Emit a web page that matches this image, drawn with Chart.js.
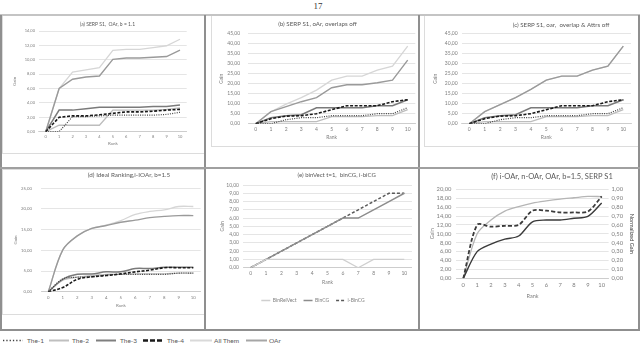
<!DOCTYPE html>
<html>
<head>
<meta charset="utf-8">
<script src="https://cdn.jsdelivr.net/npm/chart.js@4.4.1/dist/chart.umd.min.js"></script>
<style>
  html, body { margin: 0; padding: 0; background: #fff; }
  body { width: 640px; height: 345px; position: relative; overflow: hidden; font-family: Lato, sans-serif; }
  .box { position: absolute; }
  .rule { position: absolute; background: #8f8f8f; }
  .frame { position: absolute; border: 1px solid #dcdcdc; box-sizing: border-box; }
  #pageNo { position: absolute; left: 306px; width: 24px; top: 0; text-align: center; font: 9px "Liberation Serif", serif; color: #333; line-height: 12px; }
  .leg { position: absolute; top: 336px; height: 9px; font-size: 6.5px; line-height: 9px; color: #595959; white-space: nowrap; }
  .leg svg { display: block; }
</style>
</head>
<body>
<div id="pageNo">17</div>

<!-- light chart frames -->
<div class="frame" style="left:2px;top:15px;width:203px;height:139px"></div>
<div class="frame" style="left:211px;top:15px;width:208px;height:132px"></div>
<div class="frame" style="left:424px;top:15px;width:215px;height:132px"></div>
<div class="frame" style="left:2px;top:169px;width:203px;height:146px"></div>

<!-- table rules -->
<div class="rule" style="left:0;top:14px;width:640px;height:2px;background:#c4c4c4"></div>
<div class="rule" style="left:0;top:15px;width:2px;height:316px"></div>
<div class="rule" style="left:638px;top:15px;width:2px;height:316px"></div>
<div class="rule" style="left:204px;top:15px;width:2px;height:316px"></div>
<div class="rule" style="left:418px;top:15px;width:2px;height:316px"></div>
<div class="rule" style="left:0;top:167px;width:640px;height:2px;background:#a0a0a0"></div>
<div class="rule" style="left:0;top:329px;width:640px;height:2px"></div>

<!-- shared legend -->
<div class="leg" style="left:3px;top:339px"><svg width="20" height="3"><line x1="0" y1="1.5" x2="20" y2="1.5" stroke="#404040" stroke-width="1.5" stroke-dasharray="1.3,2"/></svg></div>
<div class="leg" style="left:27px">The-1</div>
<div class="leg" style="left:49px;top:339px"><svg width="20" height="3"><line x1="0" y1="1.5" x2="20" y2="1.5" stroke="#bfbfbf" stroke-width="2"/></svg></div>
<div class="leg" style="left:72px">The-2</div>
<div class="leg" style="left:96px;top:339px"><svg width="20" height="3"><line x1="0" y1="1.5" x2="20" y2="1.5" stroke="#7f7f7f" stroke-width="2"/></svg></div>
<div class="leg" style="left:120px">The-3</div>
<div class="leg" style="left:143px;top:339px"><svg width="20" height="3"><line x1="0" y1="1.5" x2="20" y2="1.5" stroke="#1a1a1a" stroke-width="2.5" stroke-dasharray="5,2"/></svg></div>
<div class="leg" style="left:167px">The-4</div>
<div class="leg" style="left:190px;top:339px"><svg width="22" height="3"><line x1="0" y1="1.5" x2="22" y2="1.5" stroke="#d9d9d9" stroke-width="2"/></svg></div>
<div class="leg" style="left:214px">All Them</div>
<div class="leg" style="left:246px;top:339px"><svg width="21" height="3"><line x1="0" y1="1.5" x2="21" y2="1.5" stroke="#a6a6a6" stroke-width="2"/></svg></div>
<div class="leg" style="left:269px">OAr</div>

<script>
const ranks = ['0', '1', '2', '3', '4', '5', '6', '7', '8', '9', '10'];

// (a) SERP S1, OAr, b = 1.1
const aThe1 = [0, 0, 2.1, 2.1, 2.2, 2.3, 2.3, 2.3, 2.3, 2.4, 2.7];
const aThe2 = [0, 0.9, 0.9, 0.9, 0.9, 3.0, 3.0, 3.0, 3.0, 3.1, 3.3];
const aThe3 = [0, 3.0, 3.0, 3.2, 3.4, 3.4, 3.4, 3.4, 3.5, 3.5, 3.7];
const aThe4 = [0, 2.0, 2.2, 2.2, 2.35, 2.55, 2.75, 2.75, 2.85, 3.0, 3.1];
const aAllThem = [0, 6.0, 8.3, 8.6, 8.9, 11.3, 11.45, 11.45, 11.7, 11.95, 12.85];
const aOAr = [0, 6.0, 7.3, 7.6, 7.75, 10.05, 10.25, 10.25, 10.35, 10.45, 11.35];

// (b) SERP S1, oAr, overlaps off
const bThe1 = [0, 0, 2, 3, 3, 4, 4, 4, 5, 5, 8];
const bThe2 = [0, 1, 1, 1, 1, 3.5, 3.5, 3.5, 4, 4, 7];
const bThe3 = [0, 3, 4, 4.5, 8, 8, 8, 8, 9, 9, 12];
const bThe4 = [0, 2.5, 3.8, 4, 5, 7, 9, 9, 9, 11, 12];
const bAllThem = [0, 6, 9.8, 13, 16.8, 21.8, 23.8, 23.8, 26.8, 28.8, 38.8];
const bOAr = [0, 6, 8.5, 11, 13, 18, 19.5, 19.5, 20.5, 21.8, 31.8];

// (c) SERP S1, oar, overlap & Attrs off
const cThe1 = [0, 0, 2, 3, 3, 4, 4, 4, 5, 5, 8];
const cThe2 = [0, 1, 1, 1, 1, 3.5, 3.5, 3.5, 4, 4, 7];
const cThe3 = [0, 3, 4, 4.5, 8, 8, 8, 8, 9, 9, 12];
const cThe4 = [0, 2.5, 3.8, 4, 5, 7, 9, 9, 9, 11, 12];
const cAllThem = [0, 6, 9.5, 13, 17.2, 21.8, 23.8, 23.8, 26.8, 28.8, 38.8];
const cOAr = [0, 6, 9.5, 13, 17.2, 21.8, 23.8, 23.8, 26.8, 28.8, 38.8];

// (d) Ideal Ranking, i-IOAr, b=1.5
const dThe1 = [0, 3.1, 3.5, 3.6, 4.0, 4.2, 4.2, 4.2, 4.2, 4.5, 4.5];
const dThe2 = [0, 2.8, 3.5, 3.9, 4.2, 4.2, 4.3, 4.3, 4.3, 4.5, 4.5];
const dThe3 = [0, 3.0, 4.2, 4.3, 4.8, 4.8, 5.6, 5.6, 5.9, 5.9, 5.9];
const dThe4 = [0, 1.0, 3.0, 3.6, 3.9, 4.3, 4.8, 5.2, 5.8, 5.8, 5.8];
const dAllThem = [0, 10.1, 13.5, 15.3, 16.1, 17.2, 18.7, 19.4, 19.8, 20.6, 20.6];
const dOAr = [0, 10.1, 13.5, 15.3, 16.0, 16.8, 17.3, 17.9, 18.2, 18.4, 18.4];

// (e) binVect t=1, binCG, i-biCG
const eBinRelVect = [0, 1, 1, 1, 1, 1, 1, 0, 1, 1, 1];
const eBinCG = [0, 1, 2, 3, 4, 5, 6, 6, 7, 8, 9];
const eIBinCG = [0, 1, 2, 3, 4, 5, 6, 7, 8, 9, 9];

// (f) i-OAr, n-OAr, OAr
const fIOAr = [0, 10.0, 13.1, 15.1, 16.1, 16.9, 17.4, 17.8, 18.1, 18.4, 18.35];
const fOAr = [0, 6.0, 7.7, 8.8, 9.5, 12.7, 13.1, 13.1, 13.5, 13.9, 16.9];
const fNOAr = [0, 0.60, 0.58, 0.59, 0.60, 0.76, 0.76, 0.74, 0.74, 0.75, 0.92];

const styles = {
  'The-1': { borderColor: '#404040', borderWidth: 1.2, borderDash: [1, 1.3] },
  'The-2': { borderColor: '#bdbdbd', borderWidth: 1.3 },
  'The-3': { borderColor: '#7a7a7a', borderWidth: 1.5 },
  'The-4': { borderColor: '#1a1a1a', borderWidth: 1.6, borderDash: [3, 1.6] },
  'All Them': { borderColor: '#d6d6d6', borderWidth: 1.3 },
  'OAr': { borderColor: '#9a9a9a', borderWidth: 1.4 },
  'BinRelVect': { borderColor: '#cfcfcf', borderWidth: 1.3 },
  'BinCG': { borderColor: '#8c8c8c', borderWidth: 1.5 },
  'i-BinCG': { borderColor: '#595959', borderWidth: 1.5, borderDash: [3, 2] },
  'i-OAr': { borderColor: '#b5b5b5', borderWidth: 1.3 },
  'OAr (f)': { borderColor: '#3a3a3a', borderWidth: 1.4 },
  'n-OAr': { borderColor: '#3a3a3a', borderWidth: 1.8, borderDash: [4, 2.2] }
};

function line(label, data, styleKey, extra) {
  return Object.assign({
    label: label,
    data: data,
    pointRadius: 0,
    fill: false,
    tension: 0,
    backgroundColor: 'transparent'
  }, styles[styleKey || label], extra || {});
}

const fmt = v => Number(v).toFixed(2).replace('.', ',');

// draws the panel heading at a fixed spot
const panelTitle = {
  id: 'panelTitle',
  afterDraw(chart, args, opts) {
    const ctx = chart.ctx;
    ctx.save();
    ctx.font = opts.size + 'px Lato';
    ctx.fillStyle = '#595959';
    ctx.textAlign = 'center';
    ctx.textBaseline = 'middle';
    ctx.fillText(opts.text, opts.x, opts.y);
    ctx.restore();
  }
};

function makePanel(p) {
  const [cx, cy, cw, ch] = p.box;
  const wrap = document.createElement('div');
  wrap.className = 'box';
  wrap.style.left = cx + 'px';
  wrap.style.top = cy + 'px';
  wrap.style.width = cw + 'px';
  wrap.style.height = ch + 'px';
  const cv = document.createElement('canvas');
  wrap.appendChild(cv);
  document.body.appendChild(wrap);

  const cat = (p.x10 - p.x0) / 10;
  const areaL = p.x0 - cat / 2;
  const areaR = p.x10 + cat / 2;
  const rightW = p.y2 ? p.y2.width : 0;
  const legendH = p.legend ? p.legend.size + p.legend.padding + 10 : 0;
  const pad = { left: 2, top: p.yTop - cy, right: cx + cw - areaR - rightW, bottom: 1 };
  const yW = areaL - cx - pad.left;
  const xBottom = cy + ch - pad.bottom - legendH;
  const xH = xBottom - p.yBot;
  const lh = p.axisSize * 1.2;
  const grey = '#7f7f7f';

  const scales = {
    x: {
      offset: true,
      grid: { display: false, drawTicks: false },
      border: { display: true, color: '#c8c8c8', width: 0.8 },
      ticks: { font: { family: 'Lato', size: p.tickSize }, color: grey, padding: 3, autoSkip: false, maxRotation: 0 },
      title: { display: true, text: 'Rank', font: { family: 'Lato', size: p.axisSize }, color: grey,
               padding: { top: 0, bottom: xBottom - p.rankY - lh / 2 } },
      afterFit: s => { s.height = xH; }
    },
    y: {
      min: 0, max: p.yMax,
      grid: { color: '#dedede', lineWidth: 0.8, drawTicks: false },
      border: { display: false },
      ticks: { stepSize: p.yStep, font: { family: 'Lato', size: p.tickSize }, color: grey, padding: p.yPad,
               autoSkip: false, callback: v => fmt(v) },
      title: { display: true, text: 'Gain', font: { family: 'Lato', size: p.axisSize }, color: grey,
               padding: { top: p.gainX - (cx + pad.left) - lh / 2, bottom: 0 } },
      afterFit: s => { s.width = yW; }
    }
  };
  if (p.y2) {
    const lh2 = p.y2.titleSize * 1.2;
    scales.y2 = {
      position: 'right', min: 0, max: p.y2.max,
      grid: { display: false, drawTicks: false },
      border: { display: false },
      ticks: { stepSize: p.y2.step, font: { family: 'Lato', size: p.tickSize }, color: grey, padding: 3,
               autoSkip: false, callback: v => fmt(v) },
      title: { display: true, text: p.y2.title, font: { family: 'Lato', size: p.y2.titleSize }, color: '#404040',
               padding: { top: (cx + cw - pad.right) - p.y2.titleX - lh2 / 2, bottom: 0 } },
      afterFit: s => { s.width = rightW; }
    };
  }

  new Chart(cv, {
    type: 'line',
    data: { labels: ranks, datasets: p.datasets },
    plugins: [panelTitle],
    options: {
      responsive: true,
      maintainAspectRatio: false,
      animation: false,
      events: [],
      layout: { padding: pad },
      scales: scales,
      plugins: {
        legend: p.legend ? {
          display: true,
          position: 'bottom',
          labels: { font: { family: 'Lato', size: p.legend.size }, color: grey, boxWidth: 9, boxHeight: 0,
                    padding: p.legend.padding }
        } : { display: false },
        tooltip: { enabled: false },
        panelTitle: { text: p.title, x: p.titleX - cx, y: p.titleY - cy, size: p.titleSize }
      }
    }
  });
}

function theSeries(t1, t2, t3, t4, all, oar, extra) {
  return [
    line('The-4', t4, null, extra),
    line('The-1', t1, null, extra),
    line('The-3', t3, null, extra),
    line('The-2', t2, null, extra),
    line('OAr', oar, null, extra),
    line('All Them', all, null, extra)
  ];
}

makePanel({
  box: [4, 16, 200, 136], x0: 45.7, x10: 180, yTop: 31, yBot: 131.7,
  yMax: 14, yStep: 2, tickSize: 4, axisSize: 4.5, yPad: 4, gainX: 15, rankY: 144,
  title: '(a) SERP S1,  OAr, b = 1.1', titleX: 107.5, titleY: 24, titleSize: 5,
  datasets: theSeries(aThe1, aThe2, aThe3, aThe4, aAllThem, aOAr)
});

makePanel({
  box: [212, 16, 206, 130], x0: 255.7, x10: 407.7, yTop: 33.7, yBot: 123.7,
  yMax: 45, yStep: 5, tickSize: 5, axisSize: 5, yPad: 8, gainX: 221.7, rankY: 137,
  title: '(b) SERP S1, oAr, overlaps off', titleX: 317.5, titleY: 24, titleSize: 6.2,
  datasets: theSeries(bThe1, bThe2, bThe3, bThe4, bAllThem, bOAr)
});

makePanel({
  box: [425, 16, 213, 130], x0: 469.3, x10: 623.3, yTop: 33.7, yBot: 123.7,
  yMax: 45, yStep: 5, tickSize: 5, axisSize: 5, yPad: 4, gainX: 435, rankY: 137,
  title: '(c) SERP S1, oar,  overlap & Attrs off', titleX: 561, titleY: 24.7, titleSize: 6.2,
  datasets: theSeries(cThe1, cThe2, cThe3, cThe4, cAllThem, cOAr)
});

makePanel({
  box: [4, 170, 200, 144], x0: 48.3, x10: 193.3, yTop: 188.3, yBot: 291.7,
  yMax: 25, yStep: 5, tickSize: 4.3, axisSize: 4.5, yPad: 9, gainX: 16, rankY: 305.7,
  title: '(d) Ideal Ranking,i-IOAr, b=1.5', titleX: 129, titleY: 175, titleSize: 6.3,
  datasets: theSeries(dThe1, dThe2, dThe3, dThe4, dAllThem, dOAr, { tension: 0.35 })
});

makePanel({
  box: [212, 170, 206, 144], x0: 250.7, x10: 404.3, yTop: 185, yBot: 267.7,
  yMax: 10, yStep: 1, tickSize: 5, axisSize: 5, yPad: 4, gainX: 222, rankY: 282,
  title: '(e) binVect t=1,  binCG, i-biCG', titleX: 336.7, titleY: 175, titleSize: 6,
  legend: { size: 5, padding: 7 },
  datasets: [
    line('BinRelVect', eBinRelVect),
    line('BinCG', eBinCG),
    line('i-BinCG', eIBinCG)
  ]
});

makePanel({
  box: [425, 170, 213, 134], x0: 463.3, x10: 601.7, yTop: 189.3, yBot: 278.3,
  yMax: 20, yStep: 2, tickSize: 5.8, axisSize: 5.5, yPad: 5, gainX: 432, rankY: 296,
  title: '(f) i-OAr, n-OAr, OAr, b=1.5, SERP S1', titleX: 552, titleY: 177, titleSize: 7.5,
  y2: { width: 27.4, max: 1, step: 0.1, title: 'Normalized Gain', titleSize: 5.5, titleX: 631.7 },
  datasets: [
    line('n-OAr', fNOAr, 'n-OAr', { yAxisID: 'y2', tension: 0.3 }),
    line('OAr', fOAr, 'OAr (f)', { tension: 0.3 }),
    line('i-OAr', fIOAr, 'i-OAr', { tension: 0.3 })
  ]
});
</script>
</body>
</html>
